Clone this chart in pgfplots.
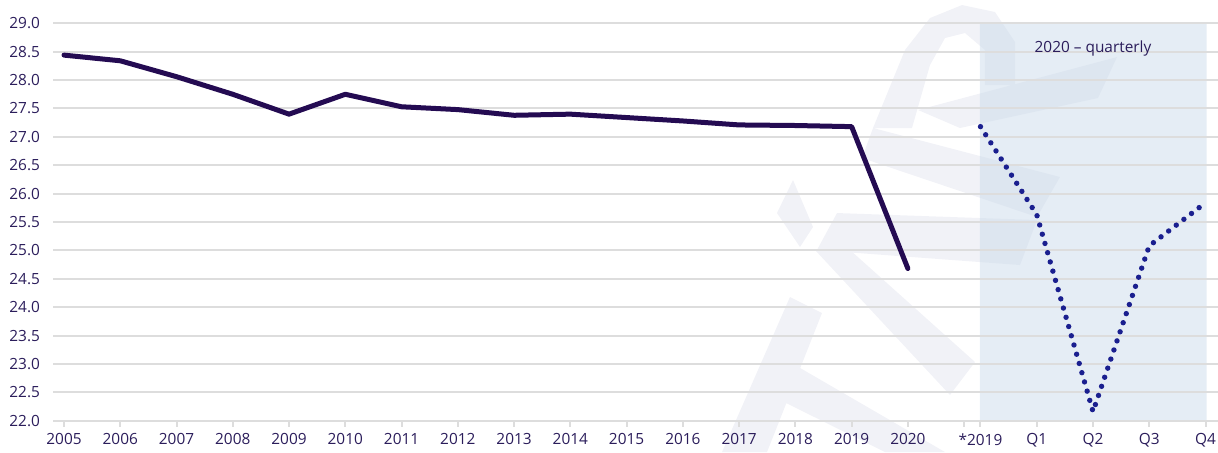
\documentclass[border=0pt]{standalone}
\usepackage{pgfplots}
\pgfplotsset{compat=1.18}
\usepackage{fontspec}
\setmainfont{Open Sans}
\definecolor{txt}{HTML}{2B1D5B}
\definecolor{cSolid}{HTML}{240B52}
\definecolor{cDots}{HTML}{1A1F8F}
\definecolor{cGrid}{HTML}{DDDDDD}
\definecolor{cShade}{HTML}{CBDBEB}
\definecolor{wm}{HTML}{F1F2F7}
\begin{document}
\begin{tikzpicture}
\begin{axis}[
  set layers,
  at={(0,0)}, anchor=south west,
  scale only axis, width=582.5pt, height=198.7pt,
  xmin=-0.1955, xmax=20.512, ymin=22, ymax=29,
  clip=false,
  axis line style={draw=none},
  ymajorgrids, grid style={color=cGrid, line width=1pt},
  ytick={22,22.5,23,23.5,24,24.5,25,25.5,26,26.5,27,27.5,28,28.5,29},
  yticklabel style={/pgf/number format/.cd, fixed, fixed zerofill, precision=1},
  /pgf/number format/assume math mode=true,
  xtick={0,1,2,3,4,5,6,7,8,9,10,11,12,13,14,15,16,16.29,17.29,18.29,19.29,20.29},
  xticklabels={2005,2006,2007,2008,2009,2010,2011,2012,2013,2014,2015,2016,2017,2018,2019,2020,{},*2019,Q1,Q2,Q3,Q4},
  xtick pos=bottom,
  tick align=outside,
  major tick length=3pt,
  xtick style={color=cGrid, line width=1pt},
  ytick style={draw=none},
  ticklabel style={font=\fontsize{7.7}{9}\selectfont, text=txt},
]
\begin{pgfonlayer}{axis background}
\fill[wm]
 (axis cs:14.380,27.156) -- (axis cs:14.948,28.530) -- (axis cs:15.393,29.093) -- (axis cs:15.962,29.322) -- (axis cs:16.548,29.199) -- (axis cs:16.904,28.671) -- (axis cs:16.904,27.913) -- (axis cs:16.370,27.913) -- (axis cs:16.370,28.530) -- (axis cs:16.015,28.829) -- (axis cs:15.659,28.741) -- (axis cs:15.393,28.265) -- (axis cs:15.073,27.156) -- cycle
 (axis cs:15.180,27.473) -- (axis cs:18.717,28.406) -- (axis cs:18.379,27.684) -- (axis cs:15.926,27.156) -- cycle
 (axis cs:14.380,27.156) -- (axis cs:17.703,26.293) -- (axis cs:17.295,25.588) -- (axis cs:14.184,26.627) -- cycle
 (axis cs:12.673,25.658) -- (axis cs:12.958,26.240) -- (axis cs:13.313,25.412) -- (axis cs:13.082,25.060) -- cycle
 (axis cs:13.384,25.007) -- (axis cs:13.740,25.658) -- (axis cs:17.295,25.535) -- (axis cs:16.993,24.742) -- cycle
 (axis cs:13.349,25.007) -- (axis cs:13.971,25.007) -- (axis cs:16.193,23.034) -- (axis cs:15.748,22.453) -- cycle
 (axis cs:12.904,24.179) -- (axis cs:13.473,23.897) -- (axis cs:12.496,21.448) -- (axis cs:11.696,21.448) -- cycle
 (axis cs:12.727,22.364) -- (axis cs:12.993,22.981) -- (axis cs:15.659,21.448) -- (axis cs:14.593,21.448) -- cycle;
\end{pgfonlayer}
\addplot[draw=none, fill=cShade, fill opacity=0.5, on layer=axis background]
  coordinates {(16.28,22) (16.28,29) (20.31,29) (20.31,22)} \closedcycle;
\addplot[cSolid, line width=2.5pt, line join=round, line cap=round] coordinates {
 (0,28.44) (1,28.34) (2,28.06) (3,27.75) (4,27.40) (5,27.75) (6,27.53) (7,27.48)
 (8,27.38) (9,27.40) (10,27.34) (11,27.28) (12,27.21) (13,27.20) (14,27.18) (15,24.68)};
\addplot[cDots, line width=2.7pt, line cap=round, dash pattern=on 0pt off 4.8pt] coordinates {
 (16.29,27.18) (17.29,25.63) (18.29,22.16) (19.29,25.08) (20.29,25.84)};
\node[text=txt, font=\fontsize{7.7}{9}\selectfont] at (axis cs:18.29,28.565) {2020 -- quarterly};
\end{axis}
\pgfresetboundingbox
\useasboundingbox (-26.5pt,-15.65pt) rectangle (582.5pt,210.35pt);
\end{tikzpicture}
\end{document}
